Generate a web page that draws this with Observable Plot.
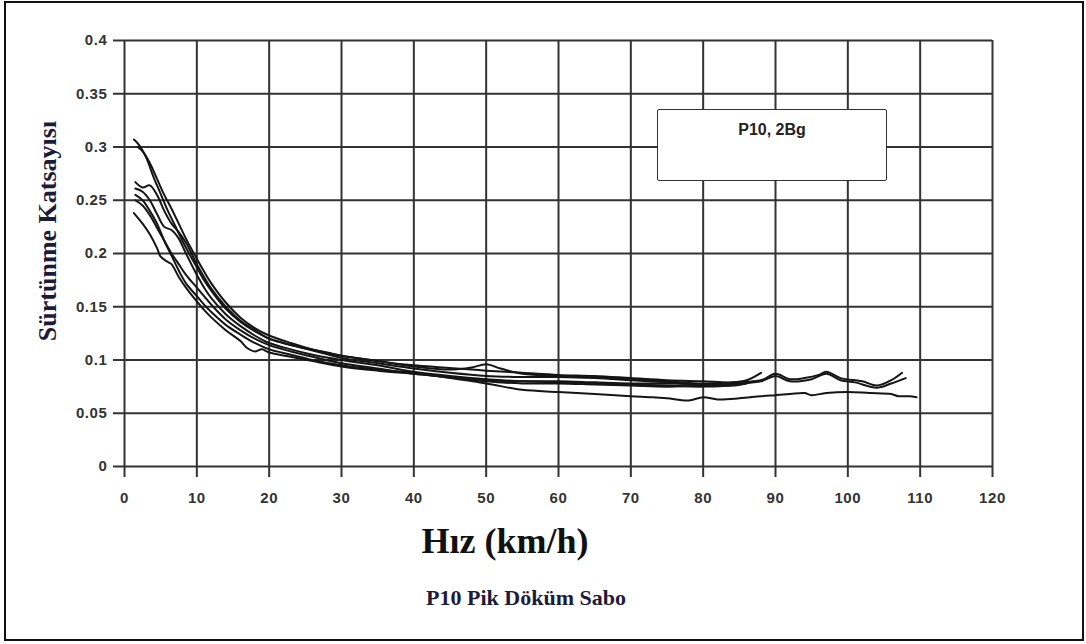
<!DOCTYPE html>
<html>
<head>
<meta charset="utf-8">
<script src="https://cdn.jsdelivr.net/npm/d3@7"></script>
<script src="https://cdn.jsdelivr.net/npm/@observablehq/plot@0.6"></script>
<style>
  html, body { margin: 0; padding: 0; background: #fff; }
  body { position: relative; width: 1086px; height: 644px; overflow: hidden; }
  #frame { position: absolute; left: 4px; top: 1px; width: 1080px; height: 640px; border: 2px solid #111; box-sizing: border-box; }
  #chart { position: absolute; left: 0; top: 0; }
  #ylab { position: absolute; left: 48px; top: 231px; transform: translate(-50%, -50%) rotate(-90deg); white-space: nowrap;
          font-family: "Liberation Serif", "Times New Roman", serif; font-weight: bold; font-size: 26px; color: #1c1c3a; }
  #xlab { position: absolute; left: 505px; top: 541px; transform: translate(-50%, -50%); white-space: nowrap;
          font-family: "Liberation Serif", "Times New Roman", serif; font-weight: bold; font-size: 36px; color: #111; }
  #cap { position: absolute; left: 526px; top: 598px; transform: translate(-50%, -50%); white-space: nowrap;
         font-family: "Liberation Serif", "Times New Roman", serif; font-weight: bold; font-size: 22px; color: #1c1c3a; }
  #legend { position: absolute; left: 657px; top: 109px; width: 230px; height: 72px; border: 1.5px solid #333; border-radius: 2px;
            background: #fff; box-sizing: border-box; text-align: center;
            font-family: "Liberation Sans", Arial, sans-serif; font-weight: bold; font-size: 16px; color: #222; padding-top: 11px; }
</style>
</head>
<body>
<div id="frame"></div>
<div id="chart"></div>
<div id="ylab">Sürtünme Katsayısı</div>
<div id="xlab">Hız (km/h)</div>
<div id="cap">P10 Pik Döküm Sabo</div>
<div id="legend">P10, 2Bg</div>
<script>
const xTicks = [0,10,20,30,40,50,60,70,80,90,100,110,120];
const yTicks = [0,0.05,0.1,0.15,0.2,0.25,0.3,0.35,0.4];
const yTickLabels = ["0","0.05","0.1","0.15","0.2","0.25","0.3","0.35","0.4"];
const legendLabel = "P10, 2Bg";

const s1 = [[1.3,0.307],[2,0.302],[3,0.29],[4,0.272],[5,0.256],[6,0.24],[7,0.226],[8,0.212],[9,0.199],[10,0.187],[11,0.175],[12,0.165],[14,0.148],[16,0.136],[18,0.127],[20,0.12],[22,0.116],[25,0.111],[28,0.107],[30,0.104],[33,0.101],[36,0.098],[40,0.095],[44,0.093],[48,0.091],[50,0.09],[55,0.088],[60,0.086],[65,0.085],[70,0.083],[75,0.081],[80,0.08],[84,0.079],[86,0.081],[88,0.088]];
const s2 = [[1.8,0.3],[2.5,0.296],[3.5,0.285],[4.5,0.27],[5.5,0.255],[6.5,0.242],[7.5,0.228],[8.5,0.214],[10,0.195],[11,0.183],[12,0.172],[14,0.154],[16,0.14],[18,0.13],[20,0.123],[23,0.116],[26,0.11],[30,0.104],[35,0.099],[40,0.094],[45,0.091],[48,0.093],[50,0.096],[52,0.092],[55,0.087],[60,0.085],[65,0.084],[70,0.082],[75,0.08],[80,0.078],[85,0.079],[88,0.081],[90,0.087],[92,0.082],[94,0.083],[96,0.086],[97,0.089],[99,0.083],[102,0.08],[104,0.076],[106,0.081],[107.5,0.088]];
const s3 = [[1.5,0.267],[2.5,0.262],[3.5,0.264],[4.5,0.255],[5.5,0.24],[6.5,0.228],[7.5,0.22],[8.5,0.21],[10,0.19],[11,0.178],[12,0.167],[14,0.15],[16,0.137],[18,0.128],[20,0.12],[23,0.114],[26,0.109],[30,0.102],[35,0.097],[40,0.092],[45,0.088],[50,0.085],[55,0.084],[60,0.084],[65,0.083],[70,0.081],[75,0.079],[80,0.077],[85,0.078],[88,0.08],[90,0.085],[92,0.08],[95,0.082],[97,0.087],[99,0.081],[101,0.079],[104,0.074],[106,0.078],[108,0.083]];
const s4 = [[1.5,0.261],[2.5,0.258],[3.5,0.25],[4.5,0.237],[5.5,0.225],[6.5,0.222],[7.5,0.214],[8.5,0.2],[10,0.18],[11,0.168],[12,0.158],[14,0.143],[16,0.132],[18,0.123],[20,0.116],[23,0.11],[26,0.105],[30,0.1],[35,0.095],[40,0.089],[45,0.085],[50,0.082],[55,0.08],[60,0.079],[65,0.078],[70,0.077],[75,0.076],[80,0.075],[85,0.077],[87,0.08]];
const s5 = [[1.5,0.25],[2.5,0.245],[3.5,0.236],[4.5,0.224],[5.5,0.212],[6.5,0.2],[7.5,0.19],[8.5,0.18],[10,0.168],[11,0.16],[12,0.152],[14,0.138],[16,0.128],[18,0.12],[20,0.114],[23,0.108],[26,0.103],[30,0.097],[35,0.092],[40,0.087],[45,0.084],[50,0.08],[55,0.078],[60,0.078],[65,0.077],[70,0.076],[75,0.075],[80,0.076],[84,0.078]];
const s6 = [[1.3,0.238],[2.5,0.228],[3.5,0.218],[4.5,0.205],[5,0.197],[6,0.192],[6.5,0.19],[7.5,0.178],[8.5,0.168],[10,0.155],[11,0.147],[12,0.14],[14,0.128],[16,0.118],[17,0.111],[18,0.108],[19,0.11],[20,0.107],[23,0.103],[26,0.099],[30,0.094],[35,0.09],[40,0.087],[45,0.084],[50,0.081],[55,0.08],[60,0.08],[65,0.079],[70,0.078],[75,0.078],[80,0.077],[84,0.076],[86,0.078]];
const s7 = [[1.5,0.255],[2.5,0.25],[3.5,0.24],[4.5,0.228],[5.5,0.212],[6.5,0.198],[7.5,0.184],[8.5,0.172],[10,0.16],[11,0.152],[12,0.145],[14,0.133],[16,0.124],[18,0.116],[20,0.11],[23,0.105],[26,0.1],[30,0.095],[35,0.091],[40,0.088],[45,0.083],[50,0.078],[55,0.072],[60,0.07],[65,0.068],[70,0.066],[73,0.065],[75,0.064],[78,0.062],[80,0.065],[82,0.063],[85,0.064],[88,0.066],[90,0.067],[92,0.068],[94,0.069],[95,0.067],[97,0.069],[100,0.07],[103,0.069],[106,0.068],[107,0.066],[108.5,0.066],[109.5,0.065]];

const series = {s1, s2, s3, s4, s5, s6, s7};
const rows = Object.entries(series).flatMap(([k, pts]) => pts.map(([x, y]) => ({run: k, x, y})));

const chart = Plot.plot({
  width: 1086,
  height: 510,
  marginLeft: 124,
  marginRight: 94,
  marginTop: 40,
  marginBottom: 44,
  style: {fontFamily: "'Liberation Sans', Arial, sans-serif", fontWeight: "bold", fontSize: "15px", background: "transparent"},
  x: {domain: [0, 120]},
  y: {domain: [0, 0.4]},
  marks: [
    Plot.gridX(xTicks, {stroke: "#333", strokeOpacity: 1, strokeWidth: 2}),
    Plot.gridY(yTicks, {stroke: "#333", strokeOpacity: 1, strokeWidth: 2}),
    Plot.axisX(xTicks, {tickSize: 11, tickPadding: 15, stroke: "#333", strokeWidth: 2, fill: "#333", label: null, tickFormat: d => String(d)}),
    Plot.axisY(yTicks, {tickSize: 11, tickPadding: 6, stroke: "#333", strokeWidth: 2, fill: "#333", label: null, tickFormat: d => yTickLabels[yTicks.indexOf(d)]}),
    Plot.line(rows, {x: "x", y: "y", z: "run", stroke: "#151515", strokeWidth: 2, curve: "catmull-rom"})
  ]
});
chart.querySelectorAll("g").forEach(g => { if (g.hasAttribute("font-size")) g.setAttribute("font-size", "15"); });
chart.querySelectorAll("text").forEach(t => {
  t.style.fontSize = "15px";
  t.style.fontWeight = "bold";
  t.style.fontFamily = "'Liberation Sans', Arial, sans-serif";
  t.style.letterSpacing = "0.6px";
});
document.getElementById("chart").appendChild(chart);
</script>
</body>
</html>
